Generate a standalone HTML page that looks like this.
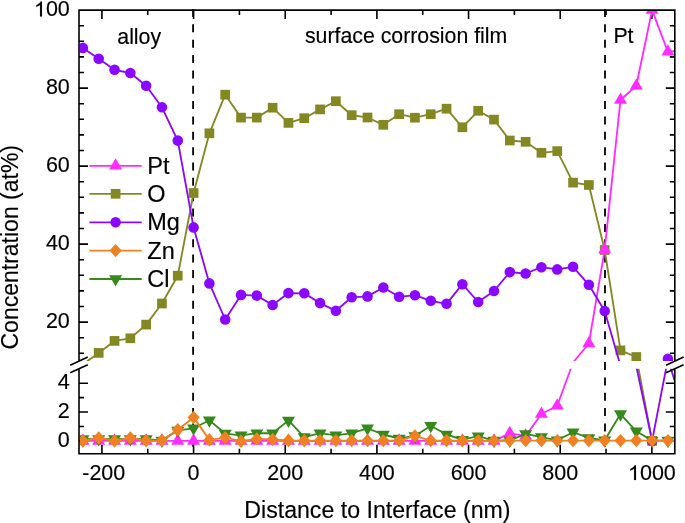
<!DOCTYPE html>
<html><head><meta charset="utf-8"><style>
html,body{margin:0;padding:0;background:#fff;}
body{width:685px;height:523px;overflow:hidden;}
svg{display:block;font-family:"Liberation Sans",sans-serif;}
text{stroke:#000;stroke-width:0.15px;}
#w{will-change:transform;width:685px;height:523px;}
</style></head><body><div id="w">
<svg width="685" height="523" viewBox="0 0 685 523">
<rect width="685" height="523" fill="#fff"/>
<defs><clipPath id="cp"><rect x="79.8" y="10.9" width="594.2" height="350.2"/><rect x="79.8" y="368.75" width="594.2" height="84.25"/></clipPath></defs>
<path d="M101.92 453.8V444.8M101.92 10.1V19.1M147.75 453.8V448.8M147.75 10.1V15.1M193.58 453.8V444.8M193.58 10.1V19.1M239.41 453.8V448.8M239.41 10.1V15.1M285.24 453.8V444.8M285.24 10.1V19.1M331.07 453.8V448.8M331.07 10.1V15.1M376.9 453.8V444.8M376.9 10.1V19.1M422.73 453.8V448.8M422.73 10.1V15.1M468.56 453.8V444.8M468.56 10.1V19.1M514.39 453.8V448.8M514.39 10.1V15.1M560.22 453.8V444.8M560.22 10.1V19.1M606.05 453.8V448.8M606.05 10.1V15.1M651.88 453.8V444.8M651.88 10.1V19.1M79 353.3H84M674.8 353.3H669.8M79 337.7H84M674.8 337.7H669.8M79 322.1H88M674.8 322.1H665.8M79 306.5H84M674.8 306.5H669.8M79 290.9H84M674.8 290.9H669.8M79 275.3H84M674.8 275.3H669.8M79 259.7H84M674.8 259.7H669.8M79 244.1H88M674.8 244.1H665.8M79 228.5H84M674.8 228.5H669.8M79 212.9H84M674.8 212.9H669.8M79 197.3H84M674.8 197.3H669.8M79 181.7H84M674.8 181.7H669.8M79 166.1H88M674.8 166.1H665.8M79 150.5H84M674.8 150.5H669.8M79 134.9H84M674.8 134.9H669.8M79 119.3H84M674.8 119.3H669.8M79 103.7H84M674.8 103.7H669.8M79 88.1H88M674.8 88.1H665.8M79 72.5H84M674.8 72.5H669.8M79 56.9H84M674.8 56.9H669.8M79 41.3H84M674.8 41.3H669.8M79 25.7H84M674.8 25.7H669.8M79 440.9H88M674.8 440.9H665.8M79 426.47H84M674.8 426.47H669.8M79 412.04H88M674.8 412.04H665.8M79 397.61H84M674.8 397.61H669.8M79 383.18H88M674.8 383.18H665.8" stroke="#000" stroke-width="1.6" fill="none"/>
<line x1="193.1" y1="9" x2="193.1" y2="453.8" stroke="#000" stroke-width="1.8" stroke-dasharray="8 7.35"/>
<line x1="605" y1="9" x2="605" y2="453.8" stroke="#000" stroke-width="1.8" stroke-dasharray="8 7.35"/>
<g clip-path="url(#cp)">
<polyline points="82.9,364.3 98.71,352.9 114.52,340.9 130.33,338.3 146.14,324.6 161.95,303.5 177.77,275.7 193.58,193 209.39,133.3 225.2,94.7 241.01,117.6 256.82,117.6 272.63,107.7 288.45,122.9 304.26,118.2 320.07,109.4 335.88,101.2 351.69,115.2 367.5,117.5 383.32,124.8 399.13,114.2 414.94,117.7 430.75,114.2 446.56,108.7 462.37,127.3 478.19,110.8 494,119.6 509.81,140.5 525.62,141.8 541.43,152.8 557.24,151.1 573.06,182.6 588.87,185 604.68,250 620.49,350.4 636.3,357 652.11,440.9" fill="none" stroke="#848822" stroke-width="1.85" stroke-linejoin="round"/>
<rect x="93.86" y="348.05" width="9.7" height="9.7" fill="#848822"/>
<rect x="109.67" y="336.05" width="9.7" height="9.7" fill="#848822"/>
<rect x="125.48" y="333.45" width="9.7" height="9.7" fill="#848822"/>
<rect x="141.29" y="319.75" width="9.7" height="9.7" fill="#848822"/>
<rect x="157.1" y="298.65" width="9.7" height="9.7" fill="#848822"/>
<rect x="172.92" y="270.85" width="9.7" height="9.7" fill="#848822"/>
<rect x="188.73" y="188.15" width="9.7" height="9.7" fill="#848822"/>
<rect x="204.54" y="128.45" width="9.7" height="9.7" fill="#848822"/>
<rect x="220.35" y="89.85" width="9.7" height="9.7" fill="#848822"/>
<rect x="236.16" y="112.75" width="9.7" height="9.7" fill="#848822"/>
<rect x="251.97" y="112.75" width="9.7" height="9.7" fill="#848822"/>
<rect x="267.78" y="102.85" width="9.7" height="9.7" fill="#848822"/>
<rect x="283.6" y="118.05" width="9.7" height="9.7" fill="#848822"/>
<rect x="299.41" y="113.35" width="9.7" height="9.7" fill="#848822"/>
<rect x="315.22" y="104.55" width="9.7" height="9.7" fill="#848822"/>
<rect x="331.03" y="96.35" width="9.7" height="9.7" fill="#848822"/>
<rect x="346.84" y="110.35" width="9.7" height="9.7" fill="#848822"/>
<rect x="362.65" y="112.65" width="9.7" height="9.7" fill="#848822"/>
<rect x="378.47" y="119.95" width="9.7" height="9.7" fill="#848822"/>
<rect x="394.28" y="109.35" width="9.7" height="9.7" fill="#848822"/>
<rect x="410.09" y="112.85" width="9.7" height="9.7" fill="#848822"/>
<rect x="425.9" y="109.35" width="9.7" height="9.7" fill="#848822"/>
<rect x="441.71" y="103.85" width="9.7" height="9.7" fill="#848822"/>
<rect x="457.52" y="122.45" width="9.7" height="9.7" fill="#848822"/>
<rect x="473.34" y="105.95" width="9.7" height="9.7" fill="#848822"/>
<rect x="489.15" y="114.75" width="9.7" height="9.7" fill="#848822"/>
<rect x="504.96" y="135.65" width="9.7" height="9.7" fill="#848822"/>
<rect x="520.77" y="136.95" width="9.7" height="9.7" fill="#848822"/>
<rect x="536.58" y="147.95" width="9.7" height="9.7" fill="#848822"/>
<rect x="552.39" y="146.25" width="9.7" height="9.7" fill="#848822"/>
<rect x="568.21" y="177.75" width="9.7" height="9.7" fill="#848822"/>
<rect x="584.02" y="180.15" width="9.7" height="9.7" fill="#848822"/>
<rect x="599.83" y="245.15" width="9.7" height="9.7" fill="#848822"/>
<rect x="615.64" y="345.55" width="9.7" height="9.7" fill="#848822"/>
<rect x="631.45" y="352.15" width="9.7" height="9.7" fill="#848822"/>
<rect x="647.26" y="436.05" width="9.7" height="9.7" fill="#848822"/>
<polyline points="82.9,440.9 98.71,440.9 114.52,440.9 130.33,440.9 146.14,440.9 161.95,440.9 177.77,440.9 193.58,440.9 209.39,440.9 225.2,440.9 241.01,440.9 256.82,440.9 272.63,440.9 288.45,440.9 304.26,440.9 320.07,440.9 335.88,440.9 351.69,440.9 367.5,440.9 383.32,440.9 399.13,440.9 414.94,440.9 430.75,440.9 446.56,440.9 462.37,440.9 478.19,440.9 494,440.9 509.81,433.3 525.62,435.9 541.43,414 557.24,405.7 573.06,362.5 588.87,343.5 604.68,249.7 620.49,100 636.3,85.8 652.11,10.1 667.93,51.8 683.74,50" fill="none" stroke="#FF2BFF" stroke-width="1.85" stroke-linejoin="round"/>
<path d="M82.9 433.37L89.4 444.67L76.4 444.67Z" fill="#FF2BFF"/>
<path d="M98.71 433.37L105.21 444.67L92.21 444.67Z" fill="#FF2BFF"/>
<path d="M114.52 433.37L121.02 444.67L108.02 444.67Z" fill="#FF2BFF"/>
<path d="M130.33 433.37L136.83 444.67L123.83 444.67Z" fill="#FF2BFF"/>
<path d="M146.14 433.37L152.64 444.67L139.64 444.67Z" fill="#FF2BFF"/>
<path d="M161.95 433.37L168.45 444.67L155.45 444.67Z" fill="#FF2BFF"/>
<path d="M177.77 433.37L184.27 444.67L171.27 444.67Z" fill="#FF2BFF"/>
<path d="M193.58 433.37L200.08 444.67L187.08 444.67Z" fill="#FF2BFF"/>
<path d="M209.39 433.37L215.89 444.67L202.89 444.67Z" fill="#FF2BFF"/>
<path d="M225.2 433.37L231.7 444.67L218.7 444.67Z" fill="#FF2BFF"/>
<path d="M241.01 433.37L247.51 444.67L234.51 444.67Z" fill="#FF2BFF"/>
<path d="M256.82 433.37L263.32 444.67L250.32 444.67Z" fill="#FF2BFF"/>
<path d="M272.63 433.37L279.13 444.67L266.13 444.67Z" fill="#FF2BFF"/>
<path d="M288.45 433.37L294.95 444.67L281.95 444.67Z" fill="#FF2BFF"/>
<path d="M304.26 433.37L310.76 444.67L297.76 444.67Z" fill="#FF2BFF"/>
<path d="M320.07 433.37L326.57 444.67L313.57 444.67Z" fill="#FF2BFF"/>
<path d="M335.88 433.37L342.38 444.67L329.38 444.67Z" fill="#FF2BFF"/>
<path d="M351.69 433.37L358.19 444.67L345.19 444.67Z" fill="#FF2BFF"/>
<path d="M367.5 433.37L374 444.67L361 444.67Z" fill="#FF2BFF"/>
<path d="M383.32 433.37L389.82 444.67L376.82 444.67Z" fill="#FF2BFF"/>
<path d="M399.13 433.37L405.63 444.67L392.63 444.67Z" fill="#FF2BFF"/>
<path d="M414.94 433.37L421.44 444.67L408.44 444.67Z" fill="#FF2BFF"/>
<path d="M430.75 433.37L437.25 444.67L424.25 444.67Z" fill="#FF2BFF"/>
<path d="M446.56 433.37L453.06 444.67L440.06 444.67Z" fill="#FF2BFF"/>
<path d="M462.37 433.37L468.87 444.67L455.87 444.67Z" fill="#FF2BFF"/>
<path d="M478.19 433.37L484.69 444.67L471.69 444.67Z" fill="#FF2BFF"/>
<path d="M494 433.37L500.5 444.67L487.5 444.67Z" fill="#FF2BFF"/>
<path d="M509.81 425.77L516.31 437.07L503.31 437.07Z" fill="#FF2BFF"/>
<path d="M525.62 428.37L532.12 439.67L519.12 439.67Z" fill="#FF2BFF"/>
<path d="M541.43 406.47L547.93 417.77L534.93 417.77Z" fill="#FF2BFF"/>
<path d="M557.24 398.17L563.74 409.47L550.74 409.47Z" fill="#FF2BFF"/>
<path d="M588.87 335.97L595.37 347.27L582.37 347.27Z" fill="#FF2BFF"/>
<path d="M604.68 242.17L611.18 253.47L598.18 253.47Z" fill="#FF2BFF"/>
<path d="M620.49 92.47L626.99 103.77L613.99 103.77Z" fill="#FF2BFF"/>
<path d="M636.3 78.27L642.8 89.57L629.8 89.57Z" fill="#FF2BFF"/>
<path d="M652.11 2.57L658.61 13.87L645.61 13.87Z" fill="#FF2BFF"/>
<path d="M667.93 44.27L674.43 55.57L661.43 55.57Z" fill="#FF2BFF"/>
<polyline points="82.9,47.9 98.71,58.8 114.52,69.8 130.33,73 146.14,85.7 161.95,107.3 177.77,140.6 193.58,227.4 209.39,283.4 225.2,319.5 241.01,294.9 256.82,295.6 272.63,305 288.45,293.1 304.26,293.3 320.07,303.1 335.88,310.8 351.69,297.3 367.5,296.4 383.32,287.5 399.13,296.8 414.94,295.2 430.75,300.8 446.56,303.8 462.37,284.2 478.19,302 494,291 509.81,272.1 525.62,273.5 541.43,267.2 557.24,269.4 573.06,266.8 588.87,284.8 604.68,311 620.49,365.7 636.3,366.3 652.11,440.9 667.93,358.9 683.74,410" fill="none" stroke="#8A08FF" stroke-width="1.85" stroke-linejoin="round"/>
<circle cx="82.9" cy="47.9" r="5.3" fill="#8A08FF"/>
<circle cx="98.71" cy="58.8" r="5.3" fill="#8A08FF"/>
<circle cx="114.52" cy="69.8" r="5.3" fill="#8A08FF"/>
<circle cx="130.33" cy="73" r="5.3" fill="#8A08FF"/>
<circle cx="146.14" cy="85.7" r="5.3" fill="#8A08FF"/>
<circle cx="161.95" cy="107.3" r="5.3" fill="#8A08FF"/>
<circle cx="177.77" cy="140.6" r="5.3" fill="#8A08FF"/>
<circle cx="193.58" cy="227.4" r="5.3" fill="#8A08FF"/>
<circle cx="209.39" cy="283.4" r="5.3" fill="#8A08FF"/>
<circle cx="225.2" cy="319.5" r="5.3" fill="#8A08FF"/>
<circle cx="241.01" cy="294.9" r="5.3" fill="#8A08FF"/>
<circle cx="256.82" cy="295.6" r="5.3" fill="#8A08FF"/>
<circle cx="272.63" cy="305" r="5.3" fill="#8A08FF"/>
<circle cx="288.45" cy="293.1" r="5.3" fill="#8A08FF"/>
<circle cx="304.26" cy="293.3" r="5.3" fill="#8A08FF"/>
<circle cx="320.07" cy="303.1" r="5.3" fill="#8A08FF"/>
<circle cx="335.88" cy="310.8" r="5.3" fill="#8A08FF"/>
<circle cx="351.69" cy="297.3" r="5.3" fill="#8A08FF"/>
<circle cx="367.5" cy="296.4" r="5.3" fill="#8A08FF"/>
<circle cx="383.32" cy="287.5" r="5.3" fill="#8A08FF"/>
<circle cx="399.13" cy="296.8" r="5.3" fill="#8A08FF"/>
<circle cx="414.94" cy="295.2" r="5.3" fill="#8A08FF"/>
<circle cx="430.75" cy="300.8" r="5.3" fill="#8A08FF"/>
<circle cx="446.56" cy="303.8" r="5.3" fill="#8A08FF"/>
<circle cx="462.37" cy="284.2" r="5.3" fill="#8A08FF"/>
<circle cx="478.19" cy="302" r="5.3" fill="#8A08FF"/>
<circle cx="494" cy="291" r="5.3" fill="#8A08FF"/>
<circle cx="509.81" cy="272.1" r="5.3" fill="#8A08FF"/>
<circle cx="525.62" cy="273.5" r="5.3" fill="#8A08FF"/>
<circle cx="541.43" cy="267.2" r="5.3" fill="#8A08FF"/>
<circle cx="557.24" cy="269.4" r="5.3" fill="#8A08FF"/>
<circle cx="573.06" cy="266.8" r="5.3" fill="#8A08FF"/>
<circle cx="588.87" cy="284.8" r="5.3" fill="#8A08FF"/>
<circle cx="604.68" cy="311" r="5.3" fill="#8A08FF"/>
<circle cx="652.11" cy="440.9" r="5.3" fill="#8A08FF"/>
<circle cx="667.93" cy="358.9" r="5.3" fill="#8A08FF"/>
<polyline points="82.9,439.1 98.71,439 114.52,439.1 130.33,439 146.14,439.1 161.95,440.4 177.77,430.4 193.58,428.3 209.39,420.2 225.2,433.6 241.01,435.3 256.82,433.2 272.63,433.2 288.45,420.4 304.26,437.1 320.07,433.2 335.88,435.3 351.69,433.2 367.5,428.3 383.32,434.5 399.13,438.5 414.94,436 430.75,425.7 446.56,434.5 462.37,439.7 478.19,436.2 494,440.6 509.81,440.5 525.62,433.9 541.43,437.1 557.24,440.3 573.06,432.2 588.87,438 604.68,440.3 620.49,414.1 636.3,431.3 652.11,440.6 667.93,440.6 683.74,440.6" fill="none" stroke="#348A1B" stroke-width="1.85" stroke-linejoin="round"/>
<path d="M82.9 446.63L89.4 435.33L76.4 435.33Z" fill="#348A1B"/>
<path d="M98.71 446.53L105.21 435.23L92.21 435.23Z" fill="#348A1B"/>
<path d="M114.52 446.63L121.02 435.33L108.02 435.33Z" fill="#348A1B"/>
<path d="M130.33 446.53L136.83 435.23L123.83 435.23Z" fill="#348A1B"/>
<path d="M146.14 446.63L152.64 435.33L139.64 435.33Z" fill="#348A1B"/>
<path d="M161.95 447.93L168.45 436.63L155.45 436.63Z" fill="#348A1B"/>
<path d="M177.77 437.93L184.27 426.63L171.27 426.63Z" fill="#348A1B"/>
<path d="M193.58 435.83L200.08 424.53L187.08 424.53Z" fill="#348A1B"/>
<path d="M209.39 427.73L215.89 416.43L202.89 416.43Z" fill="#348A1B"/>
<path d="M225.2 441.13L231.7 429.83L218.7 429.83Z" fill="#348A1B"/>
<path d="M241.01 442.83L247.51 431.53L234.51 431.53Z" fill="#348A1B"/>
<path d="M256.82 440.73L263.32 429.43L250.32 429.43Z" fill="#348A1B"/>
<path d="M272.63 440.73L279.13 429.43L266.13 429.43Z" fill="#348A1B"/>
<path d="M288.45 427.93L294.95 416.63L281.95 416.63Z" fill="#348A1B"/>
<path d="M304.26 444.63L310.76 433.33L297.76 433.33Z" fill="#348A1B"/>
<path d="M320.07 440.73L326.57 429.43L313.57 429.43Z" fill="#348A1B"/>
<path d="M335.88 442.83L342.38 431.53L329.38 431.53Z" fill="#348A1B"/>
<path d="M351.69 440.73L358.19 429.43L345.19 429.43Z" fill="#348A1B"/>
<path d="M367.5 435.83L374 424.53L361 424.53Z" fill="#348A1B"/>
<path d="M383.32 442.03L389.82 430.73L376.82 430.73Z" fill="#348A1B"/>
<path d="M399.13 446.03L405.63 434.73L392.63 434.73Z" fill="#348A1B"/>
<path d="M414.94 443.53L421.44 432.23L408.44 432.23Z" fill="#348A1B"/>
<path d="M430.75 433.23L437.25 421.93L424.25 421.93Z" fill="#348A1B"/>
<path d="M446.56 442.03L453.06 430.73L440.06 430.73Z" fill="#348A1B"/>
<path d="M462.37 447.23L468.87 435.93L455.87 435.93Z" fill="#348A1B"/>
<path d="M478.19 443.73L484.69 432.43L471.69 432.43Z" fill="#348A1B"/>
<path d="M494 448.13L500.5 436.83L487.5 436.83Z" fill="#348A1B"/>
<path d="M509.81 448.03L516.31 436.73L503.31 436.73Z" fill="#348A1B"/>
<path d="M525.62 441.43L532.12 430.13L519.12 430.13Z" fill="#348A1B"/>
<path d="M541.43 444.63L547.93 433.33L534.93 433.33Z" fill="#348A1B"/>
<path d="M557.24 447.83L563.74 436.53L550.74 436.53Z" fill="#348A1B"/>
<path d="M573.06 439.73L579.56 428.43L566.56 428.43Z" fill="#348A1B"/>
<path d="M588.87 445.53L595.37 434.23L582.37 434.23Z" fill="#348A1B"/>
<path d="M604.68 447.83L611.18 436.53L598.18 436.53Z" fill="#348A1B"/>
<path d="M620.49 421.63L626.99 410.33L613.99 410.33Z" fill="#348A1B"/>
<path d="M636.3 438.83L642.8 427.53L629.8 427.53Z" fill="#348A1B"/>
<path d="M652.11 448.13L658.61 436.83L645.61 436.83Z" fill="#348A1B"/>
<path d="M667.93 448.13L674.43 436.83L661.43 436.83Z" fill="#348A1B"/>
<polyline points="82.9,441 98.71,438 114.52,441 130.33,438 146.14,440.6 161.95,440.4 177.77,429.8 193.58,417.4 209.39,439.9 225.2,437.6 241.01,441.2 256.82,438.9 272.63,439.5 288.45,440.5 304.26,440.6 320.07,440.6 335.88,440.6 351.69,440.6 367.5,440.6 383.32,440.6 399.13,440.6 414.94,435.9 430.75,440.6 446.56,440.6 462.37,440.6 478.19,440.6 494,440.6 509.81,440.6 525.62,440.6 541.43,440.6 557.24,440.6 573.06,440.6 588.87,440.6 604.68,440.6 620.49,440.6 636.3,440.6 652.11,440.6 667.93,440.6 683.74,440.6" fill="none" stroke="#F08122" stroke-width="1.85" stroke-linejoin="round"/>
<path d="M82.9 434.3L89 441L82.9 447.7L76.8 441Z" fill="#F08122"/>
<path d="M98.71 431.3L104.81 438L98.71 444.7L92.61 438Z" fill="#F08122"/>
<path d="M114.52 434.3L120.62 441L114.52 447.7L108.42 441Z" fill="#F08122"/>
<path d="M130.33 431.3L136.43 438L130.33 444.7L124.23 438Z" fill="#F08122"/>
<path d="M146.14 433.9L152.24 440.6L146.14 447.3L140.04 440.6Z" fill="#F08122"/>
<path d="M161.95 433.7L168.05 440.4L161.95 447.1L155.85 440.4Z" fill="#F08122"/>
<path d="M177.77 423.1L183.87 429.8L177.77 436.5L171.67 429.8Z" fill="#F08122"/>
<path d="M193.58 410.7L199.68 417.4L193.58 424.1L187.48 417.4Z" fill="#F08122"/>
<path d="M209.39 433.2L215.49 439.9L209.39 446.6L203.29 439.9Z" fill="#F08122"/>
<path d="M225.2 430.9L231.3 437.6L225.2 444.3L219.1 437.6Z" fill="#F08122"/>
<path d="M241.01 434.5L247.11 441.2L241.01 447.9L234.91 441.2Z" fill="#F08122"/>
<path d="M256.82 432.2L262.92 438.9L256.82 445.6L250.72 438.9Z" fill="#F08122"/>
<path d="M272.63 432.8L278.74 439.5L272.63 446.2L266.53 439.5Z" fill="#F08122"/>
<path d="M288.45 433.8L294.55 440.5L288.45 447.2L282.35 440.5Z" fill="#F08122"/>
<path d="M304.26 433.9L310.36 440.6L304.26 447.3L298.16 440.6Z" fill="#F08122"/>
<path d="M320.07 433.9L326.17 440.6L320.07 447.3L313.97 440.6Z" fill="#F08122"/>
<path d="M335.88 433.9L341.98 440.6L335.88 447.3L329.78 440.6Z" fill="#F08122"/>
<path d="M351.69 433.9L357.79 440.6L351.69 447.3L345.59 440.6Z" fill="#F08122"/>
<path d="M367.5 433.9L373.6 440.6L367.5 447.3L361.4 440.6Z" fill="#F08122"/>
<path d="M383.32 433.9L389.42 440.6L383.32 447.3L377.22 440.6Z" fill="#F08122"/>
<path d="M399.13 433.9L405.23 440.6L399.13 447.3L393.03 440.6Z" fill="#F08122"/>
<path d="M414.94 429.2L421.04 435.9L414.94 442.6L408.84 435.9Z" fill="#F08122"/>
<path d="M430.75 433.9L436.85 440.6L430.75 447.3L424.65 440.6Z" fill="#F08122"/>
<path d="M446.56 433.9L452.66 440.6L446.56 447.3L440.46 440.6Z" fill="#F08122"/>
<path d="M462.37 433.9L468.47 440.6L462.37 447.3L456.27 440.6Z" fill="#F08122"/>
<path d="M478.19 433.9L484.29 440.6L478.19 447.3L472.09 440.6Z" fill="#F08122"/>
<path d="M494 433.9L500.1 440.6L494 447.3L487.9 440.6Z" fill="#F08122"/>
<path d="M509.81 433.9L515.91 440.6L509.81 447.3L503.71 440.6Z" fill="#F08122"/>
<path d="M525.62 433.9L531.72 440.6L525.62 447.3L519.52 440.6Z" fill="#F08122"/>
<path d="M541.43 433.9L547.53 440.6L541.43 447.3L535.33 440.6Z" fill="#F08122"/>
<path d="M557.24 433.9L563.34 440.6L557.24 447.3L551.14 440.6Z" fill="#F08122"/>
<path d="M573.06 433.9L579.16 440.6L573.06 447.3L566.96 440.6Z" fill="#F08122"/>
<path d="M588.87 433.9L594.97 440.6L588.87 447.3L582.77 440.6Z" fill="#F08122"/>
<path d="M604.68 433.9L610.78 440.6L604.68 447.3L598.58 440.6Z" fill="#F08122"/>
<path d="M620.49 433.9L626.59 440.6L620.49 447.3L614.39 440.6Z" fill="#F08122"/>
<path d="M636.3 433.9L642.4 440.6L636.3 447.3L630.2 440.6Z" fill="#F08122"/>
<path d="M652.11 433.9L658.21 440.6L652.11 447.3L646.01 440.6Z" fill="#F08122"/>
<path d="M667.93 433.9L674.03 440.6L667.93 447.3L661.83 440.6Z" fill="#F08122"/>
</g>
<path d="M78.2 10.1H675.6M78.2 453.8H675.6M79 10.1V361.1M79 368.75V453.8M674.8 10.1V361.1M674.8 368.75V453.8M70.2 365.2L87.8 357M70.2 372.85L87.8 364.65M666 365.2L683.6 357M666 372.85L683.6 364.65" stroke="#000" stroke-width="1.6" fill="none"/>
<g font-size="21.5"><text x="33.93" y="16.4"><tspan style="fill:none;stroke:none">1</tspan>00</text><text x="45.89" y="94.4">80</text><text x="45.89" y="172.4">60</text><text x="45.89" y="250.4">40</text><text x="45.89" y="328.4">20</text><text x="57.84" y="389.18">4</text><text x="57.84" y="418.04">2</text><text x="57.84" y="446.9">0</text><text x="82.23" y="480">-200</text><text x="187.6" y="480">0</text><text x="267.3" y="480">200</text><text x="358.96" y="480">400</text><text x="450.63" y="480">600</text><text x="542.29" y="480">800</text><text x="627.97" y="480"><tspan style="fill:none;stroke:none">1</tspan>000</text></g>
<g fill="#000" stroke="#000" stroke-width="14"><path transform="translate(33.93 16.4) scale(0.01050 -0.01050)" d="M763 0H583V1100Q518 1040 412 980Q306 920 222 890V1057Q373 1125 486 1222Q599 1318 646 1409H763Z"/><path transform="translate(627.97 480) scale(0.01050 -0.01050)" d="M763 0H583V1100Q518 1040 412 980Q306 920 222 890V1057Q373 1125 486 1222Q599 1318 646 1409H763Z"/></g>
<text x="377.4" y="518.1" text-anchor="middle" font-size="23.15">Distance to Interface (nm)</text>
<text transform="translate(17.5 247.25) rotate(-90)" text-anchor="middle" font-size="23">Concentration (at%)</text>
<g font-size="21.3"><text x="117.3" y="43.7">alloy</text><text x="304.9" y="43.4">surface corrosion film</text><text x="613.4" y="42.6">Pt</text></g>
<line x1="89.4" y1="165.8" x2="141.7" y2="165.8" stroke="#FF2BFF" stroke-width="1.85"/><path d="M115.6 158.27L122.1 169.57L109.1 169.57Z" fill="#FF2BFF"/><text x="147.3" y="173.7" font-size="23.5">Pt</text><line x1="89.4" y1="193.8" x2="141.7" y2="193.8" stroke="#848822" stroke-width="1.85"/><rect x="110.75" y="188.95" width="9.7" height="9.7" fill="#848822"/><text x="147.3" y="201.7" font-size="23.5">O</text><line x1="89.4" y1="222.3" x2="141.7" y2="222.3" stroke="#8A08FF" stroke-width="1.85"/><circle cx="115.6" cy="222.3" r="5.3" fill="#8A08FF"/><text x="147.3" y="230.2" font-size="23.5">Mg</text><line x1="89.4" y1="250.6" x2="141.7" y2="250.6" stroke="#F08122" stroke-width="1.85"/><path d="M115.6 243.9L121.7 250.6L115.6 257.3L109.5 250.6Z" fill="#F08122"/><text x="147.3" y="258.5" font-size="23.5">Zn</text><line x1="89.4" y1="279" x2="141.7" y2="279" stroke="#348A1B" stroke-width="1.85"/><path d="M115.6 286.53L122.1 275.23L109.1 275.23Z" fill="#348A1B"/><text x="147.3" y="286.9" font-size="23.5">Cl</text>
</svg></div>
</body></html>
